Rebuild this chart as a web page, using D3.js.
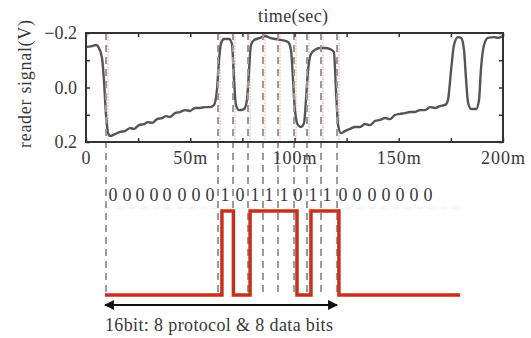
<!DOCTYPE html>
<html>
<head>
<meta charset="utf-8">
<script src="https://cdn.jsdelivr.net/npm/d3@7"></script>
<style>
  html, body { margin: 0; padding: 0; background: #fff; }
</style>
</head>
<body>
<svg id="chart" width="531" height="338"></svg>
<script>
// reader signal trace: [time (ms), volts]
const readerSignal = [
  [0, -0.149], [2.9, -0.152], [4.8, -0.156], [6.2, -0.145], [7.7, -0.108], [8.6, -0.028],
  [9.6, 0.101], [10.6, 0.167], [11.5, 0.178], [13.9, 0.171], [16.3, 0.163], [18.7, 0.160],
  [21.1, 0.149], [23.0, 0.152], [25.4, 0.138], [27.8, 0.134], [29.7, 0.127], [31.7, 0.130],
  [34.1, 0.116], [36.5, 0.112], [38.4, 0.105], [40.3, 0.108], [42.7, 0.094], [45.1, 0.090],
  [47.5, 0.083], [49.9, 0.086], [52.3, 0.075], [54.7, 0.075], [57.1, 0.072], [59.5, 0.072],
  [61.4, 0.064], [62.8, 0.009], [63.8, -0.101], [64.7, -0.160], [66.2, -0.178], [68.6, -0.178],
  [70.0, -0.160], [71.0, -0.028], [71.9, 0.064], [73.4, 0.083], [75.8, 0.079], [77.2, 0.046],
  [78.2, -0.064], [79.1, -0.156], [80.6, -0.174], [83.5, -0.182], [85.9, -0.189], [88.2, -0.182],
  [91.1, -0.178], [94.0, -0.174], [96.9, -0.167], [98.3, -0.138], [99.3, -0.028], [100.2, 0.083],
  [101.7, 0.138], [103.1, 0.145], [104.6, 0.130], [105.5, 0.046], [106.5, -0.064], [107.9, -0.123],
  [109.8, -0.138], [112.2, -0.145], [114.6, -0.145], [117.0, -0.141], [118.9, -0.130], [119.9, 0.009],
  [120.9, 0.138], [122.3, 0.167], [124.2, 0.160], [126.6, 0.152], [129.0, 0.145], [131.4, 0.145],
  [133.8, 0.134], [136.2, 0.138], [138.6, 0.123], [141.0, 0.119], [143.4, 0.112], [145.8, 0.116],
  [148.2, 0.101], [150.6, 0.097], [153.0, 0.094], [155.4, 0.090], [157.8, 0.090], [160.2, 0.083],
  [162.6, 0.083], [165.0, 0.072], [167.4, 0.075], [169.8, 0.068], [172.2, 0.064], [173.6, 0.046],
  [175.1, -0.064], [176.5, -0.156], [178.4, -0.185], [179.9, -0.182], [181.3, -0.138], [182.3, -0.028],
  [183.2, 0.053], [184.7, 0.079], [187.1, 0.079], [188.5, 0.046], [189.4, -0.064], [190.9, -0.156],
  [192.8, -0.182], [195.7, -0.185], [197.6, -0.182], [200, -0.189]
];

// bit boundaries (ms) marked with dashed lines
const bitBoundaries = [9.6, 63.3, 70.5, 77.7, 84.9, 92.1, 99.8, 106.0, 112.7, 120.4];

// decoded bits and their centres (ms)
const bitDigits = ['0','0','0','0','0','0','0','0','1','0','1','1','1','0','1','1','0','0','0','0','0','0','0'];
const bitCenters = [12.9, 19.7, 25.9, 32.6, 38.8, 46.0, 52.8, 59.5, 66.7, 73.9, 81.1, 87.8,
  95.0, 101.7, 108.9, 115.6, 123.3, 130.0, 137.2, 143.9, 150.6, 157.3, 164.0];

// digital signal steps: [time (ms), level]
const digitalSteps = [[9.1, 0], [65.2, 1], [70.7, 0], [78.7, 1], [101.2, 0], [107.9, 1], [121.3, 0], [179.4, 0]];

const xTicks = [0, 25, 50, 75, 100, 125, 150, 175, 200];
const xLabels = [0, 50, 100, 150, 200];
const yTicks = [-0.2, -0.1, 0, 0.1, 0.2];
const yLabels = [-0.2, 0, 0.2];

const FONT = '"Liberation Serif", "DejaVu Serif", serif';
const TEXT = '#383838';

const svg = d3.select('#chart');
const plot = {left: 86, right: 503, top: 33, bottom: 142};

const x = d3.scaleLinear().domain([0, 200]).range([plot.left, plot.right]);
const y = d3.scaleLinear().domain([-0.2, 0.2]).range([plot.top, plot.bottom]);
const yBit = d3.scaleLinear().domain([0, 1]).range([295, 211]);

// faint pink guide lines inside the plot
svg.append('g')
  .selectAll('line')
  .data(bitBoundaries)
  .enter().append('line')
  .attr('x1', (d) => x(d) + 2)
  .attr('x2', (d) => x(d) + 2)
  .attr('y1', plot.top)
  .attr('y2', plot.bottom)
  .attr('stroke', '#f0b4a8')
  .attr('stroke-width', 1)
  .attr('stroke-dasharray', '2,1');

// faint top guide in the bit panel
svg.append('line')
  .attr('x1', x(digitalSteps[0][0]))
  .attr('x2', x(digitalSteps[digitalSteps.length - 1][0]))
  .attr('y1', 208).attr('y2', 208)
  .attr('stroke', '#f6e2de')
  .attr('stroke-width', 1)
  .attr('stroke-dasharray', '6,6');

// reader signal trace
svg.append('path')
  .datum(readerSignal)
  .attr('fill', 'none')
  .attr('stroke', '#555')
  .attr('stroke-width', 2.4)
  .attr('stroke-linejoin', 'round')
  .attr('d', d3.line().x((d) => x(d[0])).y((d) => y(d[1])).curve(d3.curveMonotoneX));

// dashed bit boundaries
svg.append('g')
  .selectAll('line')
  .data(bitBoundaries)
  .enter().append('line')
  .attr('x1', (d) => x(d))
  .attr('x2', (d) => x(d))
  .attr('y1', plot.top)
  .attr('y2', 295)
  .attr('stroke', '#9a9a9a')
  .attr('stroke-width', 2)
  .attr('stroke-dasharray', '7,5');

// frame
svg.append('rect')
  .attr('x', plot.left)
  .attr('y', plot.top)
  .attr('width', plot.right - plot.left)
  .attr('height', plot.bottom - plot.top)
  .attr('fill', 'none')
  .attr('stroke', '#333')
  .attr('stroke-width', 2);

// axes (inward ticks)
const fmtY = d3.format('.1f');
const axisStyle = (g) => {
  g.attr('font-family', null).attr('font-size', null);
  g.select('.domain').remove();
  g.selectAll('.tick line').attr('stroke', '#333').attr('stroke-width', 1.5);
  g.selectAll('.tick text')
    .style('font-family', FONT)
    .style('font-size', '18px')
    .attr('fill', TEXT);
};

svg.append('g')
  .attr('transform', 'translate(' + plot.left + ',0)')
  .call(d3.axisLeft(y).tickValues(yTicks).tickSize(-4).tickPadding(9)
    .tickFormat((d) => yLabels.some((v) => Math.abs(v - d) < 1e-9) ? fmtY(d) : ''))
  .call(axisStyle);

svg.append('g')
  .attr('transform', 'translate(' + plot.right + ',0)')
  .call(d3.axisRight(y).tickValues(yTicks).tickSize(-4).tickFormat(''))
  .call(axisStyle);

svg.append('g')
  .attr('transform', 'translate(0,' + plot.bottom + ')')
  .call(d3.axisBottom(x).tickValues(xTicks).tickSize(-4).tickPadding(9)
    .tickFormat((d) => xLabels.includes(d) ? (d === 0 ? '0' : d + 'm') : ''))
  .call(axisStyle)
  .selectAll('.tick text').style('letter-spacing', '1px');

svg.append('g')
  .attr('transform', 'translate(0,' + plot.top + ')')
  .call(d3.axisTop(x).tickValues(xTicks).tickSize(-4).tickFormat(''))
  .call(axisStyle);

// titles
svg.append('text')
  .attr('x', 293)
  .attr('y', 22)
  .attr('text-anchor', 'middle')
  .style('font-family', FONT)
  .style('font-size', '18px')
  .attr('fill', TEXT)
  .attr('textLength', 70)
  .text('time(sec)');

svg.append('text')
  .attr('transform', 'translate(31,84) rotate(-90)')
  .attr('text-anchor', 'middle')
  .style('font-family', FONT)
  .style('font-size', '18px')
  .attr('fill', TEXT)
  .attr('textLength', 128)
  .text('reader signal(V)');

// bit digits
svg.append('g')
  .selectAll('text')
  .data(bitDigits)
  .enter().append('text')
  .attr('x', (d, i) => x(bitCenters[i]))
  .attr('y', 201)
  .attr('text-anchor', 'middle')
  .style('font-family', FONT)
  .style('font-size', '18px')
  .attr('fill', TEXT)
  .text((d) => d);

// digital signal
svg.append('path')
  .datum(digitalSteps)
  .attr('fill', 'none')
  .attr('stroke', '#c8301c')
  .attr('stroke-width', 3.5)
  .attr('stroke-linejoin', 'miter')
  .attr('d', d3.line().x((d) => x(d[0])).y((d) => yBit(d[1])).curve(d3.curveStepAfter));

// double arrow spanning the 16 bits
const defs = svg.append('defs');
defs.append('marker')
  .attr('id', 'arrow')
  .attr('viewBox', '0 0 10 10')
  .attr('refX', 9)
  .attr('refY', 5)
  .attr('markerUnits', 'userSpaceOnUse')
  .attr('markerWidth', 12)
  .attr('markerHeight', 10)
  .attr('orient', 'auto-start-reverse')
  .append('path')
  .attr('d', 'M0,0 L10,5 L0,10 Z')
  .attr('fill', '#111');

svg.append('line')
  .attr('x1', x(bitBoundaries[0]) - 1)
  .attr('x2', x(bitBoundaries[bitBoundaries.length - 1]))
  .attr('y1', 305)
  .attr('y2', 305)
  .attr('stroke', '#111')
  .attr('stroke-width', 2)
  .attr('marker-start', 'url(#arrow)')
  .attr('marker-end', 'url(#arrow)');

svg.append('text')
  .attr('x', 105)
  .attr('y', 331)
  .style('font-family', FONT)
  .style('font-size', '18px')
  .attr('fill', TEXT)
  .attr('textLength', 228)
  .text('16bit: 8 protocol & 8 data bits');
</script>
</body>
</html>
